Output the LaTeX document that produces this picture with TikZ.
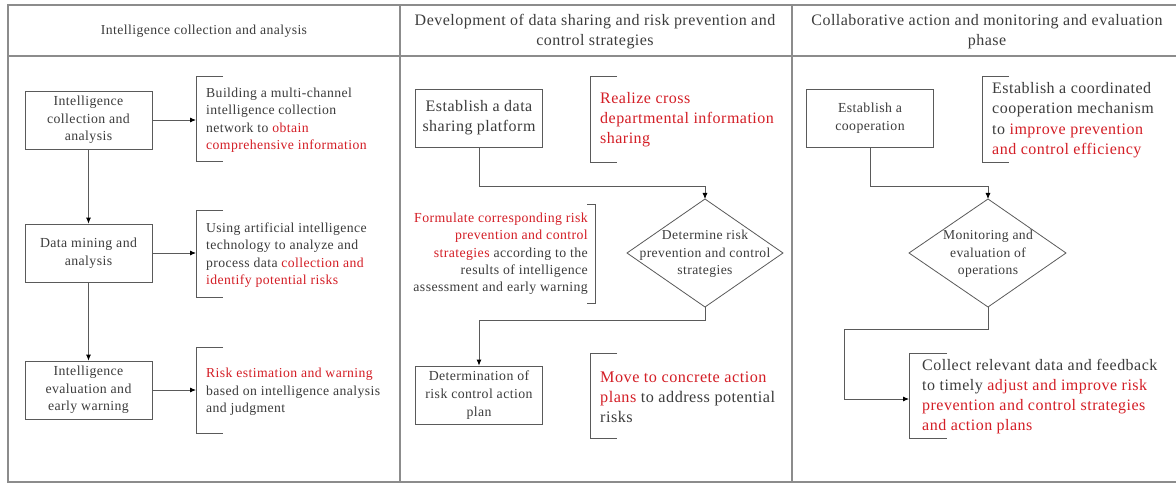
\documentclass[tikz,border=0pt]{standalone}
\usepackage{fontspec}
\setmainfont[LetterSpace=3]{Liberation Serif}
\usetikzlibrary{arrows.meta}
\definecolor{txt}{HTML}{3C3C3C}
\definecolor{redt}{HTML}{D41E26}
\definecolor{ln}{HTML}{5A5A5A}
\definecolor{frm}{HTML}{8C8C8C}
\newcommand{\fsz}[2]{\fontsize{#1}{#2}\selectfont}
\newcommand{\rd}[1]{\textcolor{redt}{#1}}
\begin{document}
\begin{tikzpicture}[x=1pt,y=-1pt,
  frame/.style={draw=frm, line width=1.4pt},
  box/.style={draw=ln, line width=0.8pt, minimum width=127pt, minimum height=58pt, inner sep=0pt, align=center, text=txt},
  arr/.style={draw=ln, line width=0.8pt, -{Latex[length=6pt,width=5pt,color=black]}},
  conn/.style={draw=ln, line width=0.8pt},
  brk/.style={draw=ln, line width=0.8pt},
  note/.style={inner sep=0pt, anchor=west, align=left, text=txt},
  head/.style={inner sep=0pt, align=center, text=txt},
  dtext/.style={inner sep=0pt, align=center, text=txt, font=\fsz{13.6}{17.5}}
]
\useasboundingbox (0,0) rectangle (1176,484);
\fill[white] (0,0) rectangle (1176,484);

% frame
\draw[frame] (1176,5) -- (8,5) -- (8,482) -- (1176,482);
\draw[frame] (8,56) -- (1176,56);
\draw[frame] (400,5) -- (400,482);
\draw[frame] (792,5) -- (792,482);

% headers
\node[head, font=\fsz{13.7}{17}] (h1) at (204,31) {Intelligence collection and analysis};
\node[head, font=\fsz{16}{20}] (h2) at (595,32) {Development of data sharing and risk prevention and\\control strategies};
\node[head, font=\fsz{16}{20}] (h3) at (987,32) {Collaborative action and monitoring and evaluation\\phase};

% ---------- column 1 ----------
\node[box, font=\fsz{13.8}{17.5}] (a1) at (88.5,120) {Intelligence\\collection and\\analysis};
\node[box, font=\fsz{13.8}{17.5}] (a2) at (88.5,253) {Data mining and\\analysis};
\node[box, font=\fsz{13.8}{17.5}] (a3) at (88.5,390) {Intelligence\\evaluation and\\early warning};

\coordinate (k1) at (196,76);
\coordinate (k2) at (196,210);
\coordinate (k3) at (196,347);
\draw[brk] (223,76) -- (196,76) -- (196,161) -- (223,161);
\draw[brk] (223,210) -- (196,210) -- (196,297) -- (223,297);
\draw[brk] (223,347) -- (196,347) -- (196,433) -- (223,433);

\node[note, font=\fsz{13.7}{17.5}] (n1) at (206,120) {Building a multi-channel\\intelligence collection\\network to \rd{obtain}\\\rd{comprehensive information}};
\node[note, font=\fsz{13.7}{17.5}] (n2) at (206,255) {Using artificial intelligence\\technology to analyze and\\process data \rd{collection and}\\\rd{identify potential risks}};
\node[note, font=\fsz{13.7}{17.5}] (n3) at (206,392) {\rd{Risk estimation and warning}\\based on intelligence analysis\\and judgment};

\draw[arr] (a1.east) -- (a1.east -| k1);
\draw[arr] (a2.east) -- (a2.east -| k2);
\draw[arr] (a3.east) -- (a3.east -| k3);
\draw[arr] (a1.south) -- (a2.north);
\draw[arr] (a2.south) -- (a3.north);

% ---------- column 2 ----------
\node[box, font=\fsz{16}{20}] (b1) at (479,118) {Establish a data\\sharing platform};
\node[box, font=\fsz{13.8}{18}] (b2) at (479,395) {Determination of\\risk control action\\plan};

\coordinate (d1t) at (705,199);
\coordinate (d1b) at (705,307);
\draw[conn] (d1t) -- (783,253) -- (d1b) -- (627,253) -- cycle;
\node[dtext] (d1) at (705,254) {Determine risk\\prevention and control\\strategies};

\draw[brk] (617,76) -- (590,76) -- (590,162) -- (617,162);
\node[note, font=\fsz{16}{20}] (n4) at (600,120) {\rd{Realize cross}\\\rd{departmental information}\\\rd{sharing}};

\draw[brk] (587,204) -- (595,204) -- (595,303) -- (587,303);
\node[inner sep=0pt, anchor=east, align=right, text=txt, font=\fsz{13.8}{17.3}] (n5) at (588,254) {\rd{Formulate corresponding risk}\\\rd{prevention and control}\\\rd{strategies} according to the\\results of intelligence\\assessment and early warning};

\draw[brk] (617,353) -- (590,353) -- (590,438) -- (617,438);
\node[note, font=\fsz{16.2}{20}] (n6) at (600,397) {\rd{Move to concrete action}\\\rd{plans} to address potential\\risks};

\draw[arr] (b1.south) -- ++(0,39) -| (d1t);
\draw[arr] (d1b) -- ++(0,13) -| (b2.north);

% ---------- column 3 ----------
\node[box, font=\fsz{13.8}{17.5}] (c1) at (870,118) {Establish a\\cooperation};

\coordinate (d2t) at (988,199);
\coordinate (d2b) at (988,307);
\draw[conn] (d2t) -- (1066,253) -- (d2b) -- (909,253) -- cycle;
\node[dtext] (d2) at (988,254) {Monitoring and\\evaluation of\\operations};

\draw[brk] (1009,76) -- (982,76) -- (982,162) -- (1009,162);
\node[note, font=\fsz{16}{20.5}] (n7) at (992,120) {Establish a coordinated\\cooperation mechanism\\to \rd{improve prevention}\\\rd{and control efficiency}};

\coordinate (k7) at (909,399);
\draw[brk] (947,353) -- (909,353) -- (909,438) -- (947,438);
\node[note, font=\fsz{16}{20}] (n8) at (922,397) {Collect relevant data and feedback\\to timely \rd{adjust and improve risk}\\\rd{prevention and control strategies}\\\rd{and action plans}};

\draw[arr] (c1.south) -- ++(0,39) -| (d2t);
\draw[arr] (d2b) -- ++(0,22) -- ++(-144,0) |- (k7);
\end{tikzpicture}
\end{document}
